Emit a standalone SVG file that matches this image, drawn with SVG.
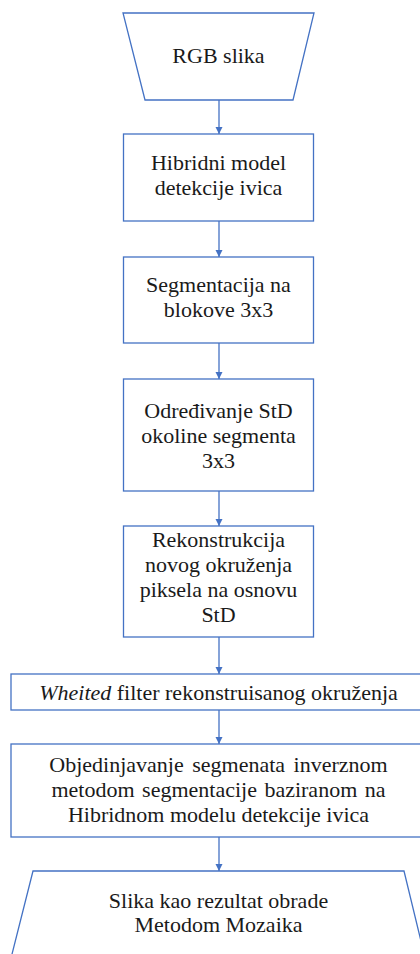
<svg xmlns="http://www.w3.org/2000/svg" width="420" height="954" viewBox="0 0 420 954">
  <defs>
    <style>
      .shape { fill: #ffffff; stroke: #4472c4; stroke-width: 1.3; }
      .conn { stroke: #4472c4; stroke-width: 1.3; fill: none; }
      text { font-family: "Liberation Serif", "Times New Roman", Times, "DejaVu Serif", "Noto Serif", serif; font-size: 22px; fill: #1a1a1a; text-anchor: middle; }
    </style>
    <marker id="arrow" markerWidth="8" markerHeight="8" refX="7" refY="4" orient="auto" markerUnits="userSpaceOnUse">
      <path d="M0,0.5 L7,4 L0,7.5 Z" fill="#4472c4"/>
    </marker>
  </defs>
  <rect width="420" height="954" fill="#ffffff"/>

  <g id="connectors">
    <line class="conn" x1="219" y1="100" x2="219" y2="134" marker-end="url(#arrow)"/>
    <line class="conn" x1="219" y1="221" x2="219" y2="257" marker-end="url(#arrow)"/>
    <line class="conn" x1="219" y1="343" x2="219" y2="379" marker-end="url(#arrow)"/>
    <line class="conn" x1="219" y1="491" x2="219" y2="526" marker-end="url(#arrow)"/>
    <line class="conn" x1="219" y1="637" x2="219" y2="674" marker-end="url(#arrow)"/>
    <line class="conn" x1="219" y1="710" x2="219" y2="744" marker-end="url(#arrow)"/>
    <line class="conn" x1="219" y1="837" x2="219" y2="871" marker-end="url(#arrow)"/>
  </g>

  <g id="n1">
    <polygon class="shape" points="123,13 314,13 293,100 145,100"/>
    <text x="218.5" y="63">RGB slika</text>
  </g>

  <g id="n2">
    <rect class="shape" x="123.5" y="134" width="190" height="87"/>
    <text x="218.5" y="170">Hibridni model</text>
    <text x="218.5" y="195">detekcije ivica</text>
  </g>

  <g id="n3">
    <rect class="shape" x="123.5" y="257" width="190" height="86"/>
    <text x="218.5" y="292">Segmentacija na</text>
    <text x="218.5" y="317">blokove 3x3</text>
  </g>

  <g id="n4">
    <rect class="shape" x="123.5" y="379" width="190" height="112"/>
    <text x="218.5" y="418">Određivanje StD</text>
    <text x="218.5" y="443">okoline segmenta</text>
    <text x="218.5" y="468">3x3</text>
  </g>

  <g id="n5">
    <rect class="shape" x="123.5" y="526" width="190" height="111"/>
    <text x="218.5" y="547">Rekonstrukcija</text>
    <text x="218.5" y="572">novog okruženja</text>
    <text x="218.5" y="597">piksela na osnovu</text>
    <text x="218.5" y="622">StD</text>
  </g>

  <g id="n6">
    <rect class="shape" x="11" y="674" width="416" height="36"/>
    <text x="218.5" y="700"><tspan font-style="italic">Wheited</tspan> filter rekonstruisanog okruženja</text>
  </g>

  <g id="n7">
    <rect class="shape" x="11" y="744" width="416" height="93"/>
    <text x="218.5" y="772" word-spacing="3">Objedinjavanje segmenata inverznom</text>
    <text x="218.5" y="797" word-spacing="2">metodom segmentacije baziranom na</text>
    <text x="218.5" y="822">Hibridnom modelu detekcije ivica</text>
  </g>

  <g id="n8">
    <polygon class="shape" points="33,871 404,871 428,970 8,970"/>
    <text x="218.5" y="908">Slika kao rezultat obrade</text>
    <text x="218.5" y="932">Metodom Mozaika</text>
  </g>
</svg>
